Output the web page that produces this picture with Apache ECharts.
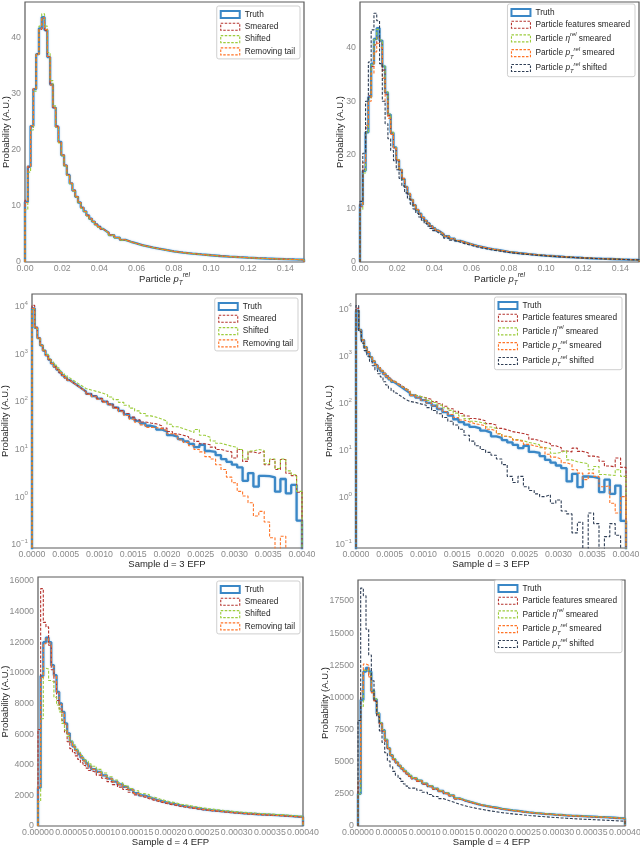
<!DOCTYPE html>
<html>
<head>
  <meta charset="utf-8">
  <script src="https://cdn.jsdelivr.net/npm/echarts@6/dist/echarts.min.js"></script>
  <style>
    html, body { margin: 0; padding: 0; background: #fff; }
    #chart { width: 640px; height: 848px; }
  </style>
</head>
<body>
<div id="chart"></div>
<script>
// ---- particle pT^rel (top row) : bin edges + densities ----
var ptEdges = [0,0.0015,0.003,0.0045,0.006,0.0075,0.009,0.0105,0.012,0.0135,0.015,0.0165,0.018,0.0195,0.021,0.0225,0.024,0.0255,0.027,0.0285,0.03,0.0315,0.033,0.0345,0.036,0.0375,0.039,0.0405,0.042,0.0435,0.045,
  0.048,0.051,0.054,0.057,0.06,0.063,0.066,0.069,0.072,0.075,
  0.08,0.085,0.09,0.095,0.1,0.105,0.11,0.115,0.12,0.125,0.13,0.135,0.14,0.145,0.15];
var ptTruth = [10.7,17.0,24.2,30.8,37.0,41.6,43.6,41.3,36.5,31.6,27.5,24.1,21.4,19.0,17.2,15.5,14.0,12.7,11.6,10.6,9.7,9.0,8.3,7.7,7.2,6.7,6.3,5.9,5.55,5.2,
  4.8,4.35,3.95,3.6,3.3,3.0,2.78,2.56,2.37,2.2,
  1.9,1.68,1.5,1.34,1.2,1.07,0.96,0.86,0.77,0.69,0.62,0.56,0.5,0.45,0.41];
var ptSmeared = [11.0,16.9,24.0,30.9,37.1,41.4,43.4,41.2,36.6,31.7,27.5,24.2,21.3,19.1,17.1,15.5,14.0,12.8,11.6,10.6,9.7,9.0,8.3,7.7,7.2,6.7,6.3,5.9,5.55,5.2,
  4.8,4.35,3.95,3.6,3.3,3.0,2.78,2.56,2.37,2.2,
  1.9,1.68,1.5,1.34,1.2,1.07,0.96,0.86,0.77,0.69,0.62,0.56,0.5,0.45,0.41];
var ptShifted = [9.3,16.0,23.5,30.4,37.0,42.0,44.2,42.0,37.3,32.3,27.8,24.0,21.2,18.9,17.0,15.4,13.9,12.6,11.5,10.5,9.6,8.9,8.2,7.6,7.1,6.6,6.2,5.85,5.5,5.15,
  4.75,4.3,3.9,3.57,3.28,2.98,2.76,2.54,2.35,2.18,
  1.88,1.67,1.49,1.33,1.19,1.06,0.95,0.85,0.76,0.68,0.61,0.55,0.49,0.44,0.4];
var ptRemoving = [10.6,17.1,24.3,30.9,37.0,41.5,43.5,41.4,36.6,31.5,27.4,24.1,21.4,19.0,17.2,15.5,14.0,12.7,11.6,10.6,9.7,9.0,8.3,7.7,7.2,6.7,6.3,5.9,5.55,5.2,
  4.8,4.35,3.95,3.6,3.3,3.0,2.78,2.56,2.37,2.2,
  1.9,1.68,1.5,1.34,1.2,1.07,0.96,0.86,0.77,0.69,0.62,0.56,0.5,0.45,0.41];
var ptFeatures = [10.3,17.3,25.0,31.0,36.5,40.5,42.0,40.8,35.8,31.2,27.3,24.0,21.3,19.0,17.2,15.5,14.0,12.7,11.6,10.6,9.7,9.0,8.3,7.7,7.2,6.7,6.3,5.9,5.55,5.2,
  4.8,4.35,3.95,3.6,3.3,3.0,2.78,2.56,2.37,2.2,
  1.9,1.68,1.5,1.34,1.2,1.07,0.96,0.86,0.77,0.69,0.62,0.56,0.5,0.45,0.41];
var ptEta = [9.8,16.6,24.1,30.5,36.8,41.5,43.4,41.4,36.7,31.8,27.6,24.2,21.4,19.1,17.2,15.5,14.0,12.7,11.6,10.6,9.7,9.0,8.3,7.7,7.2,6.7,6.3,5.9,5.55,5.2,
  4.8,4.35,3.95,3.6,3.3,3.0,2.78,2.56,2.37,2.2,
  1.9,1.68,1.5,1.34,1.2,1.07,0.96,0.86,0.77,0.69,0.62,0.56,0.5,0.45,0.41];
var ptPtSmeared = [10.8,18.5,25.5,30.0,35.2,39.2,40.8,40.0,34.3,30.0,26.8,23.8,21.2,19.0,17.2,15.6,14.1,12.8,11.7,10.7,9.8,9.0,8.3,7.7,7.2,6.7,6.3,5.9,5.55,5.2,
  4.8,4.35,3.95,3.6,3.3,3.0,2.78,2.56,2.37,2.2,
  1.9,1.68,1.5,1.34,1.2,1.07,0.96,0.86,0.77,0.69,0.62,0.56,0.5,0.45,0.41];
var ptPtShifted = [11.3,20.3,30.0,37.3,43.3,46.4,45.0,37.0,30.0,25.8,23.0,20.8,18.9,17.2,15.6,14.2,12.9,11.8,10.8,9.9,9.1,8.4,7.8,7.2,6.7,6.25,5.85,5.5,5.15,4.85,
  4.45,4.05,3.68,3.35,3.07,2.8,2.58,2.38,2.2,2.04,
  1.78,1.58,1.41,1.27,1.14,1.02,0.92,0.83,0.75,0.67,0.6,0.54,0.49,0.44,0.4];

// ---- d = 3 EFP (middle row, log scale) ----
var efp3Edges = [0,0.00004,0.00008,0.00012,0.00016,0.0002,0.00024,0.00028,0.00032,0.00036,0.0004,0.00044,0.00048,0.00052,0.00056,0.0006,0.00064,0.00068,0.00072,0.00076,0.0008,
  0.00088,0.00096,0.00104,0.00112,0.0012,0.00128,0.00136,0.00144,0.00152,0.0016,0.00168,0.00176,0.00184,0.00192,0.002,0.00208,0.00216,0.00224,0.00232,0.0024,
  0.00248,0.00256,0.00264,0.00272,0.0028,0.00288,0.00296,0.00304,0.00312,0.0032,0.00328,0.00336,0.00344,0.00352,0.0036,0.00368,0.00376,0.00384,0.00392,0.004];
var efp3Truth = [9300,3630,2190,1550,1200,955,776,646,550,479,417,363,324,288,263,240,219,200,182,166,
  148,132,117,102,89,76,65,55,46,40,35.5,31.6,29.5,26.3,24,20,18.6,16.6,14.8,13.2,
  11.2,12.6,9.3,8.9,7.6,6.3,5.5,4.8,4.2,2.2,3.2,1.66,2.8,2.75,2.6,1.3,2.4,1.2,1.8,0.32];
var efp3Smeared = [10700,3700,2200,1560,1190,950,770,640,545,475,412,360,320,286,260,238,217,198,181,165,
  148,133,118,103,90,77,66,57,48,42,38,36,34.7,31.6,28.2,24,21.4,20,18.6,16.6,
  14.8,13.2,12.6,11.2,10,9.33,8.91,6.61,10,5.62,8.91,8.32,9.12,4.79,6.17,3.8,6.17,3.16,2.82,1.26];
var efp3Shifted = [9000,3550,2200,1580,1240,1000,820,690,595,520,455,400,358,320,292,268,246,226,208,192,
  178,166,154,141,127,112,98,85,74,65,57,51,47.9,43.7,39.8,33.9,30.2,27.5,25.1,22.9,
  26.3,20,18.2,15.1,13.5,12.6,11.7,11.2,10,6.31,9.33,10,9.55,5.01,6.31,3.98,6.31,3.55,2.95,1.32];
var efp3Removing = [9200,3600,2180,1540,1195,950,770,642,547,476,414,360,321,285,260,237,216,197,179,163,
  145,129,114,99,86,73,62,52,43.5,37.5,33,29.2,28.8,27.5,25.1,21.4,20,15.8,14.1,12,
  10,8.91,7.08,6.31,4.79,3.8,2.63,2,1.32,1.05,0.76,0.4,0.5,0.3,0.14,0,0.15,0,0,0];
var efp3Features = [10500,3700,2250,1600,1240,990,805,672,575,502,440,385,345,308,282,258,237,218,200,184,
  150,140,131,122,110,98,87,77,68,61,54,47.9,45.7,42.7,37.2,34.7,29.5,27.5,25.1,24,
  22.9,21.4,17.4,16.2,15.1,14.1,12.6,11.5,9.77,9.33,11.2,9.55,8.91,7.59,7.24,5.89,4.68,4.47,6.92,4.37];
var efp3Eta = [9400,3650,2220,1580,1220,975,792,660,565,492,430,376,336,300,274,250,230,211,194,178,
  151,140,128,116,104,92,81,71,62,54,47,41.7,39.8,37.2,31.6,29.5,22.9,20,19.1,17,
  16.2,14.8,14.1,13.2,11.5,11,8.71,9.12,10,6.31,5.75,5.5,5.25,3.89,4.57,3.09,3.02,2.95,3.89,2.82];
var efp3PtSmeared = [9500,3650,2200,1570,1210,965,785,655,558,486,424,370,330,294,268,245,224,205,188,172,
  148,132,117,102,89,77,67,58,50,44.5,40.5,37.2,35.5,33.1,28.2,26.3,22.4,20,18.6,16.6,
  15.5,13.5,12.6,12,11.5,8.32,7.24,6.61,5.5,5.01,3.9,3.31,2.4,3.3,2.82,1.7,1.78,0.76,0.47,1.05];
var efp3PtShifted = [12000,3310,1900,1320,1000,776,631,513,427,363,288,245,209,186,166,151,138,126,117,110,
  105,97.7,91.2,81.3,70.8,60.3,50.1,41.7,34.7,28.2,21,15.8,12.6,10.5,9.1,7.94,6.6,5.01,2.82,2.09,
  2.82,1.7,1.41,1.2,1.05,1.15,0.76,0.89,0.52,0.45,0.178,0.3,0,0.47,0.28,0,0.148,0.28,0.158,0];

// ---- d = 4 EFP (bottom row) ----
var efp4Edges = [0,0.000004,0.000008,0.000012,0.000016,0.00002,0.000024,0.000028,0.000032,0.000036,0.00004,0.000044,0.000048,0.000052,0.000056,0.00006,0.000064,0.000068,0.000072,0.000076,0.00008,
  0.000088,0.000096,0.000104,0.000112,0.00012,0.000128,0.000136,0.000144,0.000152,0.00016,0.000168,0.000176,0.000184,0.000192,0.0002,0.000208,0.000216,0.000224,0.000232,0.00024,
  0.000248,0.000256,0.000264,0.000272,0.00028,0.000288,0.000296,0.000304,0.000312,0.00032,0.000328,0.000336,0.000344,0.000352,0.00036,0.000368,0.000376,0.000384,0.000392,0.0004];
var efp4Truth = [2500,9800,12000,12300,12000,10500,9850,8750,8000,7450,6700,6050,5500,5200,4950,4700,4480,4280,4080,3900,
  3720,3530,3300,3100,2900,2720,2550,2380,2150,2000,1880,1760,1650,1560,1480,1420,1330,1280,1220,1170,
  1110,1060,1020,985,950,920,885,860,830,805,785,765,745,725,705,690,665,640,615,590];
var efp4Smeared = [6300,15500,13300,13000,11800,10200,9400,8200,7650,6900,6100,5500,5050,4800,4580,4350,4130,3950,3780,3620,
  3500,3320,3120,2900,2700,2540,2380,2200,2030,1900,1780,1670,1580,1490,1410,1350,1270,1220,1170,1120,
  1070,1030,990,955,920,890,860,835,805,780,760,740,720,700,685,670,645,620,600,575];
var efp4Shifted = [1600,7000,10300,10250,9500,9400,8400,7900,7450,6700,6250,5850,5550,5300,5050,4820,4600,4400,4220,4060,
  3900,3700,3460,3220,3000,2820,2640,2450,2300,2120,2050,1880,1760,1670,1570,1520,1420,1370,1310,1250,
  1190,1140,1100,1060,1020,985,950,920,890,865,840,820,800,780,755,740,715,690,665,640];
var efp4Removing = [2600,9700,11900,12250,11950,10450,9800,8700,7950,7400,6650,6000,5470,5170,4920,4680,4450,4250,4060,3880,
  3700,3500,3280,3080,2880,2700,2530,2360,2130,1980,1860,1740,1640,1550,1470,1410,1320,1270,1210,1160,
  1100,1050,1010,975,940,910,875,850,820,795,775,755,735,715,695,680,655,630,605,580];
var efp4Features = [3000,10000,12100,12200,11700,10400,9750,8650,7950,7350,6600,6000,5450,5150,4900,4650,4430,4230,4040,3860,
  3660,3470,3250,3050,2850,2680,2510,2340,2110,1970,1850,1730,1620,1540,1460,1400,1310,1260,1200,1150,
  1090,1045,1005,970,935,905,870,845,815,790,770,750,730,710,690,675,650,625,600,575];
var efp4Eta = [2500,9300,12100,12200,11900,10550,9900,8800,8050,7500,6750,6100,5550,5250,5000,4750,4520,4320,4120,3940,
  3760,3570,3340,3130,2930,2750,2580,2400,2170,2020,1900,1780,1670,1580,1500,1435,1345,1295,1235,1180,
  1120,1070,1030,995,960,930,895,870,840,815,795,775,755,735,715,700,675,650,625,600];
var efp4PtSmeared = [3500,10500,12600,12500,11600,10350,9700,8650,7950,7350,6650,6000,5480,5180,4930,4680,4460,4260,4060,3880,
  3700,3510,3290,3080,2880,2710,2540,2370,2140,1990,1870,1750,1640,1550,1470,1410,1320,1270,1210,1160,
  1100,1055,1015,980,945,915,880,855,825,800,780,760,740,720,700,685,660,635,610,585];
var efp4PtShifted = [8200,18500,17900,15300,13300,11300,9700,8500,7400,6500,5700,5050,4600,4250,3950,3700,3470,3270,3100,2940,
  2950,2780,2620,2450,2290,2130,1980,1840,1700,1580,1480,1390,1310,1230,1160,1100,1040,990,940,900,
  860,820,785,750,720,690,660,630,605,580,555,535,515,495,475,455,435,415,395,375];

// ---- styling ----
var FONT = '"Liberation Sans", Arial, Helvetica, sans-serif';
var TICK = '#8a8a8a';
var INK = '#262626';
var C = { truth: '#3a87c6', red: '#b5332e', green: '#9ccc3c', orange: '#ff7427', navy: '#2f3e55' };

var nameRich = {
  i: { fontStyle: 'italic', fontSize: 9.5, color: INK, lineHeight: 15, fontFamily: FONT },
  sub: { fontStyle: 'italic', fontSize: 6.5, color: INK, verticalAlign: 'bottom', lineHeight: 6, fontFamily: FONT },
  sup: { fontStyle: 'italic', fontSize: 6.5, color: INK, verticalAlign: 'top', lineHeight: 6, fontFamily: FONT }
};
var legRich = {
  i: { fontStyle: 'italic', fontSize: 8.3, color: INK, lineHeight: 13.5, fontFamily: FONT },
  sub: { fontStyle: 'italic', fontSize: 5.8, color: INK, verticalAlign: 'bottom', lineHeight: 5, fontFamily: FONT },
  sup: { fontStyle: 'italic', fontSize: 5.8, color: INK, verticalAlign: 'top', lineHeight: 5, fontFamily: FONT }
};
var legLabels = {
  'Particle eta smeared': 'Particle {i|η}{sup|rel} smeared',
  'Particle pT smeared': 'Particle {i|p}{sub|T}{sup|rel} smeared',
  'Particle pT shifted': 'Particle {i|p}{sub|T}{sup|rel} shifted'
};

function stepData(edges, vals, floor) {
  var pts = [[edges[0], floor]];
  for (var i = 0; i < vals.length; i++) {
    pts.push([edges[i], vals[i] > 0 ? vals[i] : floor]);
  }
  pts.push([edges[vals.length], pts[pts.length - 1][1]]);
  pts.push([edges[vals.length], floor]);
  return pts;
}

function hist(name, idx, edges, vals, color, dashed, floor) {
  var ls = { color: color, width: dashed ? 1.1 : 2.3, type: dashed ? [3, 1.6] : 'solid' };
  if (!dashed) { ls.shadowColor = 'rgba(58,135,198,0.35)'; ls.shadowBlur = 2; }
  return {
    name: name, type: 'line', xAxisIndex: idx, yAxisIndex: idx,
    data: stepData(edges, vals, floor), step: 'end',
    showSymbol: false, symbol: 'none', silent: true, animation: false,
    itemStyle: { color: color },
    lineStyle: ls
  };
}

function legItem(name, color, dashed) {
  return {
    name: name, icon: 'rect',
    itemStyle: { color: 'rgba(255,255,255,0)', borderColor: color, borderWidth: dashed ? 1.1 : 2, borderType: dashed ? [2.5, 1.5] : 'solid' }
  };
}

function legend(right, top, items) {
  return {
    orient: 'vertical', right: right, top: top, selectedMode: false,
    itemWidth: 19, itemHeight: 7, itemGap: 1.3, itemTextGap: 6,
    padding: [3, 5, 2, 3], borderColor: '#cfcfcf', borderWidth: 1, borderRadius: 2,
    backgroundColor: 'rgba(255,255,255,0.85)',
    formatter: function (n) { return legLabels[n] || n; },
    textStyle: { fontSize: 8.3, color: INK, lineHeight: 11, fontFamily: FONT, rich: legRich },
    data: items
  };
}

function xAxis(idx, max, interval, dec, name, gap, rich, hideMax) {
  return {
    type: 'value', gridIndex: idx, min: 0, max: max, interval: interval,
    name: name, nameLocation: 'middle', nameGap: gap, nameMoveOverlap: false,
    nameTextStyle: { color: INK, fontSize: 9.5, fontFamily: FONT, lineHeight: rich ? 15 : 12, rich: rich ? nameRich : undefined },
    axisLine: { show: false }, axisTick: { show: false }, splitLine: { show: false },
    axisLabel: { color: TICK, fontSize: 8.8, fontFamily: FONT, margin: 2, showMaxLabel: !hideMax, hideOverlap: false,
      formatter: function (v) { return v.toFixed(dec); } }
  };
}

function yLin(idx, max, interval, gap) {
  return {
    type: 'value', gridIndex: idx, min: 0, max: max, interval: interval,
    name: 'Probability (A.U.)', nameLocation: 'middle', nameGap: gap, nameMoveOverlap: false,
    nameTextStyle: { color: INK, fontSize: 9.5, fontFamily: FONT, lineHeight: 11 },
    axisLine: { show: false }, axisTick: { show: false }, splitLine: { show: false },
    axisLabel: { color: TICK, fontSize: 8.8, fontFamily: FONT, margin: 4, showMaxLabel: false, hideOverlap: false,
      formatter: function (v) { return String(Math.round(v)); } }
  };
}

function yLog(idx, min, max, gap) {
  return {
    type: 'log', logBase: 10, gridIndex: idx, min: min, max: max,
    name: 'Probability (A.U.)', nameLocation: 'middle', nameGap: gap, nameMoveOverlap: false,
    nameTextStyle: { color: INK, fontSize: 9.5, fontFamily: FONT, lineHeight: 11 },
    axisLine: { show: false }, axisTick: { show: false }, splitLine: { show: false },
    axisLabel: {
      color: TICK, fontSize: 8.8, fontFamily: FONT, margin: 4, showMinLabel: false, showMaxLabel: false, hideOverlap: false,
      formatter: function (v) {
        var e = Math.round(Math.log(v) / Math.LN10);
        return '{b|10}{e|' + (e < 0 ? '\u2212' + (-e) : e) + '}';
      },
      rich: {
        b: { color: TICK, fontSize: 8.8, fontFamily: FONT, lineHeight: 13 },
        e: { color: TICK, fontSize: 6.2, fontFamily: FONT, lineHeight: 6, verticalAlign: 'top' }
      }
    }
  };
}

var gridBoxes = [
  [25, 2, 279, 260], [360, 2, 279, 260],
  [32, 294, 270, 254], [356, 294, 270, 254],
  [38, 577, 265, 249], [358, 580, 267, 246]
];
var grids = gridBoxes.map(function (b) {
  return { left: b[0], top: b[1], width: b[2], height: b[3], show: true, containLabel: false,
    outerBoundsMode: 'none', borderColor: '#5a5a5a', borderWidth: 1.2, backgroundColor: 'rgba(0,0,0,0)' };
});

var ptName = 'Particle {i|p}{sub|T}{sup|rel}';
var xAxes = [
  xAxis(0, 0.15, 0.02, 2, ptName, 9.5, true, true),
  xAxis(1, 0.15, 0.02, 2, ptName, 9.5, true, true),
  xAxis(2, 0.004, 0.0005, 4, 'Sample d = 3 EFP', 10, false, false),
  xAxis(3, 0.004, 0.0005, 4, 'Sample d = 3 EFP', 10, false, false),
  xAxis(4, 0.0004, 0.00005, 5, 'Sample d = 4 EFP', 10.5, false, false),
  xAxis(5, 0.0004, 0.00005, 5, 'Sample d = 4 EFP', 10.5, false, false)
];
var yAxes = [
  yLin(0, 46.3, 10, 13.5),
  yLin(1, 48.5, 10, 13.8),
  yLog(2, 0.085, 18600, 21.5),
  yLog(3, 0.085, 21000, 20.8),
  yLin(4, 16260, 2000, 27.5),
  yLin(5, 19130, 2500, 27.2)
];

var LF = 0.001; // floor used for empty bins on log axes (below visible range)
var series = [
  hist('Truth', 0, ptEdges, ptTruth, C.truth, false, 0),
  hist('Smeared', 0, ptEdges, ptSmeared, C.red, true, 0),
  hist('Shifted', 0, ptEdges, ptShifted, C.green, true, 0),
  hist('Removing tail', 0, ptEdges, ptRemoving, C.orange, true, 0),

  hist('Truth', 1, ptEdges, ptTruth, C.truth, false, 0),
  hist('Particle features smeared', 1, ptEdges, ptFeatures, C.red, true, 0),
  hist('Particle eta smeared', 1, ptEdges, ptEta, C.green, true, 0),
  hist('Particle pT smeared', 1, ptEdges, ptPtSmeared, C.orange, true, 0),
  hist('Particle pT shifted', 1, ptEdges, ptPtShifted, C.navy, true, 0),

  hist('Truth', 2, efp3Edges, efp3Truth, C.truth, false, LF),
  hist('Smeared', 2, efp3Edges, efp3Smeared, C.red, true, LF),
  hist('Shifted', 2, efp3Edges, efp3Shifted, C.green, true, LF),
  hist('Removing tail', 2, efp3Edges, efp3Removing, C.orange, true, LF),

  hist('Truth', 3, efp3Edges, efp3Truth, C.truth, false, LF),
  hist('Particle features smeared', 3, efp3Edges, efp3Features, C.red, true, LF),
  hist('Particle eta smeared', 3, efp3Edges, efp3Eta, C.green, true, LF),
  hist('Particle pT smeared', 3, efp3Edges, efp3PtSmeared, C.orange, true, LF),
  hist('Particle pT shifted', 3, efp3Edges, efp3PtShifted, C.navy, true, LF),

  hist('Truth', 4, efp4Edges, efp4Truth, C.truth, false, 0),
  hist('Smeared', 4, efp4Edges, efp4Smeared, C.red, true, 0),
  hist('Shifted', 4, efp4Edges, efp4Shifted, C.green, true, 0),
  hist('Removing tail', 4, efp4Edges, efp4Removing, C.orange, true, 0),

  hist('Truth', 5, efp4Edges, efp4Truth, C.truth, false, 0),
  hist('Particle features smeared', 5, efp4Edges, efp4Features, C.red, true, 0),
  hist('Particle eta smeared', 5, efp4Edges, efp4Eta, C.green, true, 0),
  hist('Particle pT smeared', 5, efp4Edges, efp4PtSmeared, C.orange, true, 0),
  hist('Particle pT shifted', 5, efp4Edges, efp4PtShifted, C.navy, true, 0)
];

var leftItems = [legItem('Truth', C.truth, false), legItem('Smeared', C.red, true),
  legItem('Shifted', C.green, true), legItem('Removing tail', C.orange, true)];
var rightItems = [legItem('Truth', C.truth, false), legItem('Particle features smeared', C.red, true),
  legItem('Particle eta smeared', C.green, true), legItem('Particle pT smeared', C.orange, true),
  legItem('Particle pT shifted', C.navy, true)];

var option = {
  animation: false,
  backgroundColor: '#ffffff',
  textStyle: { fontFamily: FONT },
  grid: grids,
  xAxis: xAxes,
  yAxis: yAxes,
  legend: [
    legend(340, 6, leftItems),
    legend(5, 4, rightItems),
    legend(342, 298, leftItems),
    legend(18, 297, rightItems),
    legend(340, 581, leftItems),
    legend(18, 580, rightItems)
  ],
  series: series
};

var chart = echarts.init(document.getElementById('chart'));
chart.setOption(option);
</script>
</body>
</html>
